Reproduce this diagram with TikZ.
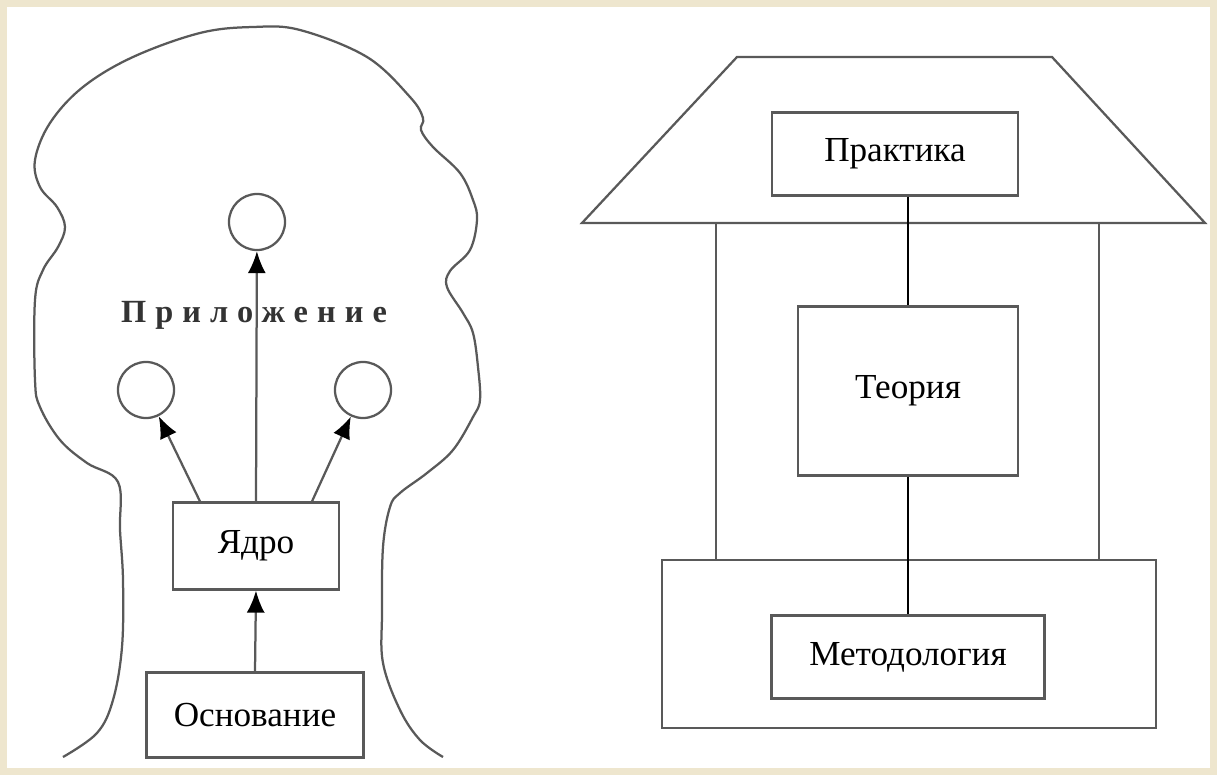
\documentclass[tikz,border=0pt]{standalone}
\usepackage{fontspec}
\setmainfont{Liberation Serif}
\newfontfamily\spacedfont[LetterSpace=28]{Liberation Serif}
\usetikzlibrary{arrows.meta}
\begin{document}
\begin{tikzpicture}[x=0.025cm, y=-0.025cm,
  box/.style={draw=black!65, line width=1.6pt, rectangle, inner sep=0pt, font=\fontsize{25}{29}\selectfont},
  ring/.style={draw=black!65, line width=1.6pt, circle, minimum size=1.4cm, inner sep=0pt},
  arr/.style={draw=black!65, line width=1.6pt, -{Latex[length=0.55cm, width=0.45cm, color=black]}},
  wall/.style={draw=black!65, line width=1.6pt},
  link/.style={draw=black, line width=1.9pt}]
\definecolor{frame}{HTML}{EEE6CE}
\fill[frame] (0,0) rectangle (1217,775);
\fill[white] (7,7) rectangle (1210,768);
\draw[wall] plot[smooth, tension=0.6] coordinates {
  (63,757) (97,733) (113,700) (122,647) (123,580) (120,530) (118,482) (87,463) (60,440)
  (40,407) (35,380) (35,300) (43,270) (58,247) (65,227) (57,207) (40,187) (35,160)
  (50,123) (83,87) (133,57) (200,33) (253,27) (300,30) (367,57) (410,97) (423,118)
  (421,130) (433,147) (460,173) (473,200) (477,220) (470,250) (450,271) (447,287)
  (463,313) (473,333) (478,367) (480,400) (473,417) (453,450) (427,473) (400,493)
  (390,507) (383,547) (382,613) (383,663) (400,710) (420,740) (443,757)};
\node[ring] (ct) at (257,222) {};
\node[ring] (cl) at (146,390) {};
\node[ring] (cr) at (363,390) {};
\node[font=\fontsize{23}{27}\spacedfont\bfseries, text=black!80] (app) at (254,315) {Приложение};
\node[box, minimum width=4.15cm, minimum height=2.175cm] (core) at (256,546) {Ядро};
\node[box, minimum width=5.425cm, minimum height=2.125cm] (basis) at (255,715) {Основание};
\draw[arr] (core.north) -- (ct);
\draw[arr] ([xshift=-1.4cm]core.north) -- (cl);
\draw[arr] ([xshift=1.4cm]core.north) -- (cr);
\draw[arr] (basis.north) -- (core.south);
\draw[wall] (737,57) -- (1052,57) -- (1205,223) -- (582,223) -- cycle;
\node[box, minimum width=12.35cm, minimum height=4.2cm] (found) at (909,644) {};
\coordinate (lt) at (716,223);
\coordinate (rt) at (1099,223);
\draw[wall] (lt) -- (lt |- found.north);
\draw[wall] (rt) -- (rt |- found.north);
\node[box, minimum width=6.15cm, minimum height=2.075cm] (practice) at (895,154) {Практика};
\node[box, minimum width=5.5cm, minimum height=4.225cm] (theory) at (908,391) {Теория};
\node[box, fill=white, minimum width=6.825cm, minimum height=2.075cm] (method) at (908,657) {Методология};
\draw[link] (theory.north |- practice.south) -- (theory.north);
\draw[link] (theory.south) -- (method.north);
\end{tikzpicture}
\end{document}
